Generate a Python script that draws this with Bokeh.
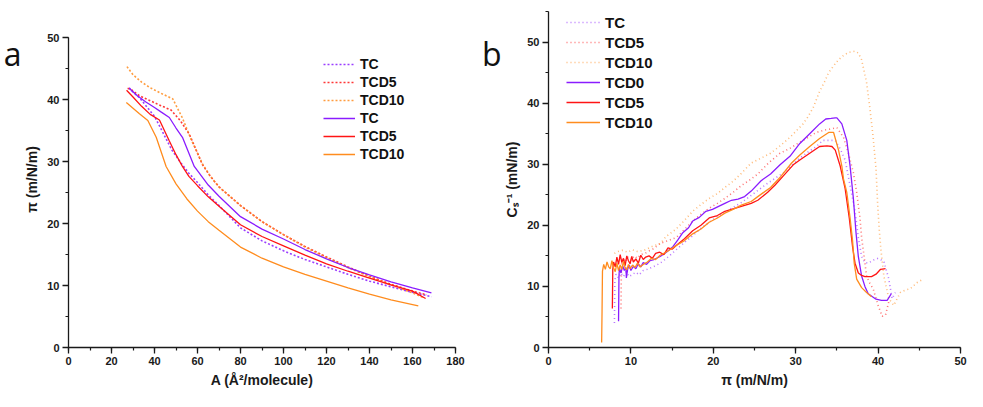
import math
from bokeh.plotting import figure
from bokeh.layouts import row
from bokeh.models import Range1d, SingleIntervalTicker, FixedTicker, Legend, LegendItem, LinearAxis
from bokeh.embed import file_html
from bokeh.resources import INLINE

# ---------------- Panel a: pi-A isotherms ----------------
a_tc_dot_A = [28.2, 30, 33, 36, 40, 44, 48, 52, 56, 60, 65, 70, 80, 90, 100, 110, 120, 130, 140, 150, 160, 168.8]
a_tc_dot_P = [41.9, 41.2, 40.3, 39.0, 37.3, 34.6, 31.9, 29.9, 28.1, 26.6, 24.6, 22.9, 19.3, 17.2, 15.6, 14.2, 13.0, 11.8, 10.7, 9.8, 8.9, 8.2]

a_tcd5_dot_A = [27.5, 29.2, 33, 38, 43, 47.7, 52, 56.2, 62.3, 66, 70, 80, 90, 100, 110, 120, 130, 140, 150, 160, 166.6]
a_tcd5_dot_P = [41.8, 41.6, 40.6, 39.8, 39.0, 38.3, 36.6, 34.4, 29.5, 27.6, 25.9, 22.9, 20.3, 18.2, 16.3, 14.6, 13.0, 11.5, 10.2, 9.1, 8.5]

a_tcd10_dot_A = [27.2, 30, 34, 38, 43, 48.5, 53, 57, 62.3, 66, 70, 80, 90, 100, 110, 120, 130, 140, 150, 160, 165.5]
a_tcd10_dot_P = [45.3, 44.0, 42.8, 41.9, 41.0, 40.1, 37.0, 33.6, 29.6, 27.6, 25.9, 22.9, 20.3, 18.2, 16.2, 14.5, 12.9, 11.4, 10.1, 8.8, 8.0]

a_tc_A = [28.2, 32, 36, 40, 43, 46.9, 50, 53, 58.5, 65, 70, 80, 90, 100, 110, 120, 130, 140, 150, 160, 168.8]
a_tc_P = [41.8, 40.6, 39.6, 38.7, 38.0, 37.1, 35.4, 33.9, 29.2, 26.2, 24.4, 21.1, 19.1, 17.5, 15.8, 14.3, 12.9, 11.7, 10.6, 9.6, 8.8]

a_tcd5_A = [27.0, 30, 34, 38, 42.3, 46.9, 50, 53, 56, 60, 65, 70, 80, 90, 100, 110, 120, 130, 140, 150, 160, 166.1]
a_tcd5_P = [41.5, 40.4, 38.9, 37.6, 36.7, 33.3, 31.1, 29.2, 27.6, 26.1, 24.3, 22.8, 19.8, 17.9, 16.4, 14.9, 13.5, 12.3, 11.2, 10.1, 9.1, 7.9]

a_tcd10_A = [26.9, 30, 33, 36.9, 40.8, 45.4, 50, 55, 60, 65, 70, 80, 90, 100, 110, 120, 130, 140, 150, 162.7]
a_tcd10_P = [39.5, 38.6, 37.7, 36.6, 33.9, 29.2, 26.4, 24.0, 22.0, 20.3, 18.9, 16.2, 14.4, 13.0, 11.8, 10.7, 9.6, 8.6, 7.7, 6.7]

# ---------------- Panel b: compressibility modulus ----------------
b_tc_dot_pi = [8.0, 8.05, 8.2, 8.5, 8.8, 9.1, 9.4, 9.8, 10.2, 10.6, 11.0, 11.5, 12.0, 12.7, 13.55, 14.5, 15.5, 16.5, 17.5, 18.5, 19.5, 20.5, 21.5, 22.5, 23.5, 24.5, 25.4, 26.5, 27.5, 28.5, 29.5, 30.5, 31.5, 32.5, 33.3, 34.0, 34.8, 35.4, 36.0, 36.6, 37.2, 37.6, 38.0, 38.4, 38.8, 39.4, 40.0, 40.7, 41.3, 41.7, 42.1]
b_tc_dot_C = [4.0, 11.0, 12.0, 11.4, 12.2, 11.6, 12.4, 11.6, 12.0, 12.3, 11.9, 12.6, 12.8, 13.2, 13.8, 14.8, 16.0, 17.2, 18.3, 19.5, 20.5, 21.4, 22.2, 23.0, 23.8, 24.8, 25.7, 26.8, 27.7, 28.6, 29.8, 31.0, 32.0, 32.9, 33.9, 33.9, 33.9, 32.5, 30.7, 26.5, 22.3, 18.0, 14.9, 13.9, 13.8, 14.3, 14.6, 14.1, 11.2, 8.0, 9.0]

b_tcd5_dot_pi = [8.8, 8.85, 9.0, 9.3, 9.6, 10.0, 10.4, 10.8, 11.2, 11.7, 12.2, 12.8, 13.5, 14.5, 15.5, 16.5, 17.5, 18.5, 19.5, 20.5, 21.4, 22.4, 23.4, 24.4, 25.4, 26.7, 28.1, 29.3, 30.5, 31.5, 32.5, 33.5, 34.4, 35.0, 35.8, 36.4, 37.0, 37.4, 37.8, 38.0, 38.3, 38.6, 39.0, 39.4, 40.0, 40.5, 40.9, 41.3]
b_tcd5_dot_C = [6.4, 13.5, 14.6, 14.0, 14.8, 14.3, 15.0, 14.6, 15.2, 15.4, 15.8, 16.2, 17.0, 17.5, 18.0, 19.3, 20.7, 21.8, 22.8, 23.6, 24.4, 25.4, 26.5, 27.4, 28.4, 30.2, 31.8, 32.6, 33.6, 34.4, 35.2, 35.6, 35.8, 36.0, 34.4, 31.8, 28.6, 25.4, 21.2, 18.0, 14.9, 11.7, 10.5, 9.6, 6.9, 5.1, 5.3, 7.5]

b_tcd10_dot_pi = [8.0, 8.4, 9.0, 9.6, 10.2, 10.8, 11.6, 12.5, 13.55, 14.3, 15.5, 16.5, 17.5, 18.5, 19.5, 20.5, 21.4, 22.4, 23.4, 24.6, 25.8, 26.95, 28.1, 29.3, 30.1, 30.9, 31.5, 32.1, 32.9, 33.5, 34.0, 34.6, 35.2, 35.8, 36.4, 37.2, 37.6, 38.0, 38.6, 39.0, 39.4, 39.75, 39.95, 40.15, 40.35, 40.7, 41.3, 41.9, 42.7, 43.3, 43.9, 44.7, 45.5]
b_tcd10_dot_C = [15.4, 15.7, 15.9, 15.6, 16.0, 15.7, 15.9, 16.5, 17.0, 18.2, 19.4, 20.8, 22.3, 23.4, 24.4, 25.2, 26.2, 27.2, 28.5, 30.2, 31.0, 31.8, 33.0, 34.4, 35.5, 36.6, 37.8, 39.2, 41.9, 43.5, 45.0, 46.1, 47.1, 47.8, 48.3, 48.5, 48.2, 47.1, 43.4, 39.2, 34.4, 29.2, 23.3, 19.1, 15.9, 11.7, 8.0, 6.9, 9.0, 9.4, 9.6, 10.6, 11.2]

b_tcd0_pi = [8.5, 8.55, 8.6, 8.8, 9.0, 9.2, 9.4, 9.45, 9.6, 9.8, 10.0, 10.3, 10.6, 10.9, 11.2, 11.5, 11.9, 12.3, 12.8, 13.55, 14.3, 15.1, 15.7, 16.3, 17.0, 17.5, 18.3, 19.1, 19.9, 20.65, 21.4, 22.2, 23.0, 23.8, 24.6, 25.8, 26.95, 28.1, 29.3, 30.5, 31.7, 32.9, 33.65, 34.3, 34.8, 35.0, 35.6, 36.2, 36.6, 37.0, 37.3, 37.6, 38.0, 38.4, 38.8, 39.75, 40.4, 41.1, 41.6]
b_tcd0_C = [4.3, 11.4, 13.0, 12.2, 13.4, 12.6, 13.1, 11.4, 12.8, 13.5, 12.6, 13.3, 12.9, 13.7, 13.2, 13.9, 13.6, 14.2, 14.4, 14.9, 15.6, 16.5, 17.6, 18.8, 19.6, 20.7, 21.3, 22.3, 22.6, 23.1, 23.6, 24.1, 24.3, 24.7, 25.6, 27.3, 28.4, 29.9, 31.3, 33.4, 35.0, 36.6, 37.4, 37.5, 37.6, 37.6, 36.6, 33.9, 29.7, 24.4, 19.1, 14.9, 11.7, 10.0, 8.8, 7.9, 7.7, 7.7, 8.8]

b_tcd5_pi = [7.75, 7.8, 7.9, 8.1, 8.3, 8.5, 8.7, 8.9, 9.1, 9.3, 9.5, 9.7, 9.9, 10.1, 10.3, 10.6, 10.9, 11.2, 11.5, 11.8, 12.2, 12.6, 13.0, 13.5, 14.0, 14.5, 15.0, 15.5, 16.5, 17.5, 18.5, 19.5, 20.5, 21.4, 22.4, 23.4, 24.6, 25.4, 26.6, 27.5, 28.5, 29.7, 30.5, 31.7, 32.9, 33.8, 34.4, 34.8, 35.4, 36.0, 36.5, 36.9, 37.2, 37.6, 38.0, 38.4, 39.2, 39.75, 40.3, 40.9]
b_tcd5_C = [6.4, 12.8, 14.0, 13.2, 14.8, 13.6, 15.2, 13.9, 14.6, 13.4, 15.0, 14.2, 13.7, 14.9, 14.0, 14.5, 13.8, 15.1, 14.4, 14.8, 15.0, 14.6, 15.4, 15.6, 15.2, 16.3, 16.1, 16.7, 17.8, 19.1, 20.0, 21.2, 21.6, 22.3, 22.7, 23.1, 23.6, 24.1, 25.4, 26.6, 28.1, 29.9, 30.7, 31.8, 32.9, 33.0, 32.9, 32.3, 29.7, 26.0, 21.2, 16.5, 13.8, 12.2, 11.8, 11.6, 11.6, 12.0, 12.8, 12.9]

b_tcd10_pi = [6.45, 6.5, 6.55, 6.7, 6.9, 7.1, 7.3, 7.5, 7.7, 7.9, 8.1, 8.3, 8.5, 8.7, 8.9, 9.1, 9.3, 9.5, 9.7, 9.9, 10.2, 10.5, 10.8, 11.1, 11.5, 12.0, 12.5, 13.0, 13.55, 14.5, 15.5, 16.5, 17.5, 18.5, 19.5, 20.5, 21.4, 22.4, 23.4, 24.6, 25.4, 26.95, 28.2, 29.5, 30.5, 31.7, 32.9, 34.0, 34.6, 35.2, 35.6, 35.8, 36.2, 36.6, 36.9, 37.1, 37.4, 38.0, 38.6, 39.2]
b_tcd10_C = [0.8, 6.0, 12.5, 13.6, 12.8, 14.0, 13.2, 12.9, 14.2, 13.0, 12.4, 13.8, 12.6, 13.5, 12.8, 14.1, 13.0, 12.7, 13.6, 12.9, 13.5, 13.1, 13.8, 13.2, 13.6, 14.0, 14.6, 14.4, 15.1, 15.8, 16.7, 17.5, 18.6, 19.4, 20.5, 21.2, 22.0, 22.6, 23.3, 23.9, 24.7, 26.2, 28.0, 30.2, 31.5, 32.9, 34.2, 35.2, 35.2, 32.3, 29.7, 27.6, 25.4, 21.2, 17.5, 13.8, 11.2, 9.8, 9.0, 8.3]

labels_a = ["TC", "TCD5", "TCD10", "TC", "TCD5", "TCD10"]
labels_b = ["TC", "TCD5", "TCD10", "TCD0", "TCD5", "TCD10"]

PURPLE = "#8A1CFF"
RED = "#FF1414"
ORANGE = "#FF8C1E"

FONT = "Liberation Sans"
AXC = "#1a1a1a"

H = 391
TOP = 11
BOTTOM = 44
FRAME_BOTTOM = H - BOTTOM          # 347
FRAME_H = FRAME_BOTTOM - TOP        # 336
A_TOP_PX = 37                       # where pi = 50 sits in panel a
a_y_end = 50 * FRAME_H / (FRAME_BOTTOM - A_TOP_PX)
LETTER_PX = 53                      # vertical screen position of panel letters


def style_axes(p, xint, yint):
    p.xaxis.ticker = SingleIntervalTicker(interval=xint, num_minor_ticks=2)
    p.yaxis.ticker = SingleIntervalTicker(interval=yint, num_minor_ticks=2)
    for ax in (p.xaxis[0], p.yaxis[0]):
        ax.major_tick_out = 6
        ax.major_tick_in = 0
        ax.minor_tick_out = 3
        ax.minor_tick_in = 0
        ax.axis_line_width = 1.3
        ax.axis_line_color = AXC
        ax.major_tick_line_width = 1.3
        ax.major_tick_line_color = AXC
        ax.minor_tick_line_width = 1.2
        ax.minor_tick_line_color = AXC
        ax.major_label_text_font = FONT
        ax.major_label_text_font_style = "bold"
        ax.major_label_text_font_size = "11px"
        ax.major_label_text_color = AXC
        ax.major_label_standoff = 3
        ax.axis_label_text_font = FONT
        ax.axis_label_text_font_style = "bold"
        ax.axis_label_text_font_size = "14px"
        ax.axis_label_text_color = AXC
        ax.axis_label_standoff = 4
    p.xgrid.visible = False
    p.ygrid.visible = False
    p.outline_line_color = None


def make_legend(items, loc, row_h, glyph_w, fs):
    lg = Legend(items=items, location=loc)
    lg.padding = 0
    lg.margin = 0
    lg.spacing = 0
    lg.label_height = row_h
    lg.glyph_height = row_h
    lg.glyph_width = glyph_w
    lg.label_standoff = 5
    lg.label_text_font = FONT
    lg.label_text_font_style = "bold"
    lg.label_text_font_size = fs
    lg.label_text_color = "#111111"
    lg.border_line_color = None
    lg.background_fill_alpha = 0
    return lg


def panel_letter(p, letter, y_end):
    # the panel letter is drawn as the single tick label of a bare extra axis on the left
    pos = round((FRAME_BOTTOM - LETTER_PX) * y_end / FRAME_H, 1)
    ax = LinearAxis(ticker=FixedTicker(ticks=[pos], minor_ticks=[]))
    ax.major_label_overrides = {pos: letter, str(pos): letter}
    ax.axis_line_color = None
    ax.major_tick_line_color = None
    ax.minor_tick_line_color = None
    ax.major_tick_out = 0
    ax.major_tick_in = 0
    ax.major_label_standoff = 0
    ax.major_label_text_font = "Open Sans"
    ax.major_label_text_font_size = "32px"
    ax.major_label_text_color = "#111111"
    p.add_layout(ax, "left")


# ---------------- Figure a ----------------
pa = figure(width=478, height=H, output_backend="svg", toolbar_location=None,
            x_range=Range1d(0, 180), y_range=Range1d(0, a_y_end),
            min_border_left=65, min_border_right=23, min_border_top=TOP, min_border_bottom=BOTTOM)
pa.xaxis.axis_label = "A (Å²/molecule)"
pa.yaxis.axis_label = "π (m/N/m)"
style_axes(pa, 20, 10)
pa.yaxis.bounds = (0, 50)

dot_a = dict(line_width=1.6, line_dash="2 2", line_alpha=0.85)
r1 = pa.line(a_tc_dot_A, a_tc_dot_P, line_color=PURPLE, **dot_a)
r2 = pa.line(a_tcd5_dot_A, a_tcd5_dot_P, line_color=RED, **dot_a)
r3 = pa.line(a_tcd10_dot_A, a_tcd10_dot_P, line_color=ORANGE, **dot_a)
r4 = pa.line(a_tc_A, a_tc_P, line_color=PURPLE, line_width=1.3)
r5 = pa.line(a_tcd5_A, a_tcd5_P, line_color=RED, line_width=1.3)
r6 = pa.line(a_tcd10_A, a_tcd10_P, line_color=ORANGE, line_width=1.3)

items_a = [LegendItem(label=l, renderers=[r]) for l, r in zip(labels_a, [r1, r2, r3, r4, r5, r6])]
pa.add_layout(make_legend(items_a, (255, FRAME_BOTTOM - 163), 18, 32, "14px"))
panel_letter(pa, "a", a_y_end)

# ---------------- Figure b ----------------
pb = figure(width=489, height=H, output_backend="svg", toolbar_location=None,
            x_range=Range1d(0, 50), y_range=Range1d(0, 55),
            min_border_left=70, min_border_right=7, min_border_top=TOP, min_border_bottom=BOTTOM)
pb.xaxis.axis_label = "π (m/N/m)"
pb.yaxis.axis_label = "Cₛ⁻¹ (mN/m)"
style_axes(pb, 10, 10)

dot_b = dict(line_width=1.6, line_dash="1 3", line_alpha=0.6)
s1 = pb.line(b_tc_dot_pi, b_tc_dot_C, line_color=PURPLE, **dot_b)
s2 = pb.line(b_tcd5_dot_pi, b_tcd5_dot_C, line_color=RED, **dot_b)
s3 = pb.line(b_tcd10_dot_pi, b_tcd10_dot_C, line_color=ORANGE, **dot_b)
s4 = pb.line(b_tcd0_pi, b_tcd0_C, line_color=PURPLE, line_width=1.3)
s5 = pb.line(b_tcd5_pi, b_tcd5_C, line_color=RED, line_width=1.3)
s6 = pb.line(b_tcd10_pi, b_tcd10_C, line_color=ORANGE, line_width=1.3)

items_b = [LegendItem(label=l, renderers=[r]) for l, r in zip(labels_b, [s1, s2, s3, s4, s5, s6])]
pb.add_layout(make_legend(items_b, (18, FRAME_BOTTOM - 132), 20, 34, "15px"))
panel_letter(pb, "b", 55)

layout = row(pa, pb, spacing=0)
open("out.html", "w").write(file_html(layout, INLINE))
